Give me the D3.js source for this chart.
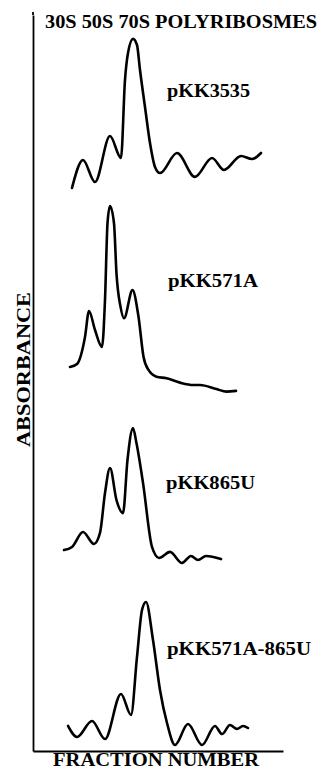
<!DOCTYPE html>
<html><head><meta charset="utf-8">
<script src="https://cdn.jsdelivr.net/npm/d3@7"></script>
<style>html,body{margin:0;padding:0;background:#fff;}svg{display:block;}</style>
</head><body>
<script>
// Fraction number (x) and absorbance (y, arbitrary units)
const titleText = "30S 50S 70S POLYRIBOSMES";
const yAxisLabel = "ABSORBANCE";
const xAxisLabel = "FRACTION NUMBER";
const traceNames = ["pKK3535", "pKK571A", "pKK865U", "pKK571A-865U"];
const traceOffsets = [300, 190, 100, 0];

const fractions1 = [7.8, 10.0, 12.4, 15.4, 17.6, 18.4, 19.0, 20.0, 20.8, 21.4, 22.4, 23.4, 24.4, 25.4, 28.8, 32.4, 35.8, 38.2, 41.6, 43.8, 45.6];
const absorb1    = [6.0, 21.2, 9.2, 34.2, 22.3, 64.7, 79.3, 87.0, 83.7, 70.1, 50.0, 30.4, 17.4, 14.1, 25.0, 12.0, 22.3, 15.8, 23.4, 21.7, 25.0];

const fractions2 = [7.4, 8.8, 10.4, 11.2, 12.4, 13.8, 14.4, 14.9, 15.4, 16.2, 16.7, 17.5, 18.2, 19.9, 21.1, 22.1, 23.1, 24.7, 26.7, 29.4, 32.1, 33.4, 36.7, 38.7, 40.6];
const absorb2    = [18.7, 20.3, 35.0, 49.1, 38.8, 29.6, 55.1, 96.8, 106.2, 96.8, 69.4, 51.5, 45.2, 60.5, 46.0, 24.3, 17.1, 13.4, 12.6, 10.2, 8.9, 8.9, 6.7, 5.3, 5.7];

const fractions3 = [6.2, 7.8, 10.0, 12.2, 13.4, 14.4, 15.4, 16.7, 18.0, 18.9, 20.0, 20.7, 22.0, 23.8, 25.2, 27.4, 29.8, 31.6, 33.0, 34.6, 37.6];
const absorb3    = [9.2, 10.9, 19.0, 12.5, 18.5, 40.2, 53.8, 36.4, 29.3, 58.2, 75.5, 67.2, 45.7, 10.9, 4.9, 8.2, 2.2, 6.0, 3.8, 6.0, 4.3];

const fractions4 = [7.0, 8.8, 11.8, 14.4, 17.6, 19.6, 20.8, 21.8, 22.6, 24.0, 25.4, 26.8, 28.4, 31.0, 33.8, 36.4, 37.8, 39.4, 40.8, 42.0, 43.0];
const absorb4    = [13.6, 7.6, 16.3, 6.5, 31.0, 19.6, 51.1, 76.6, 81.0, 60.3, 33.2, 15.2, 3.3, 14.7, 3.3, 13.6, 9.2, 14.1, 12.0, 13.6, 12.5];

const allFractions = [fractions1, fractions2, fractions3, fractions4];
const allAbsorb = [absorb1, absorb2, absorb3, absorb4];

const W = 321, H = 769;
const svg = d3.select("body").append("svg").attr("width", W).attr("height", H);

const x = d3.scaleLinear().domain([0, 50]).range([33, 283]);
const y = d3.scaleLinear().domain([0, 400]).range([751, 15]);

const serif = "'Liberation Serif', 'DejaVu Serif', serif";

// axes (no ticks)
svg.append("g").attr("transform", `translate(0,${y(0)})`)
  .call(d3.axisBottom(x).tickValues([]).tickSizeOuter(0))
  .call(g => g.select(".domain").attr("stroke", "#000").attr("stroke-width", 1.8));
svg.append("g").attr("transform", `translate(${x(0)},0)`)
  .call(d3.axisLeft(y).tickValues([]).tickSizeOuter(0))
  .call(g => g.select(".domain").attr("stroke", "#000").attr("stroke-width", 1.8));
svg.append("line").attr("x1", x(0)).attr("x2", x(0)).attr("y1", 12).attr("y2", y(400))
  .attr("stroke", "#000").attr("stroke-width", 1.8);

const line = d3.line()
  .x(d => x(d[0]))
  .y(d => y(d[1]))
  .curve(d3.curveMonotoneX);

allFractions.forEach((fr, i) => {
  const pts = fr.map((f, j) => [f, allAbsorb[i][j] + traceOffsets[i]]);
  svg.append("path").datum(pts)
    .attr("d", line)
    .attr("fill", "none")
    .attr("stroke", "#000")
    .attr("stroke-width", 2.6)
    .attr("stroke-linejoin", "round")
    .attr("stroke-linecap", "round");
});

// trace labels
const labelPos = [[26.8, 97], [27.0, 287], [26.6, 489], [26.8, 655]];
const labelLen = [83, 90, 89, 144];
traceNames.forEach((n, i) => {
  svg.append("text").text(n)
    .attr("x", x(labelPos[i][0])).attr("y", labelPos[i][1])
    .attr("font-family", serif).attr("font-size", 19).attr("font-weight", "bold")
    .attr("textLength", labelLen[i]).attr("lengthAdjust", "spacingAndGlyphs")
    .attr("fill", "#000");
});

svg.append("text").text(titleText)
  .attr("x", 45).attr("y", 28)
  .attr("font-family", serif).attr("font-size", 19).attr("font-weight", "bold")
  .attr("textLength", 272).attr("lengthAdjust", "spacingAndGlyphs");

svg.append("text").text(xAxisLabel)
  .attr("x", 53).attr("y", 766)
  .attr("font-family", serif).attr("font-size", 18).attr("font-weight", "bold")
  .attr("textLength", 206).attr("lengthAdjust", "spacingAndGlyphs");

svg.append("text").text(yAxisLabel)
  .attr("transform", "translate(30,447) rotate(-90)")
  .attr("font-family", serif).attr("font-size", 18).attr("font-weight", "bold")
  .attr("textLength", 155).attr("lengthAdjust", "spacingAndGlyphs");
</script>
</body></html>
